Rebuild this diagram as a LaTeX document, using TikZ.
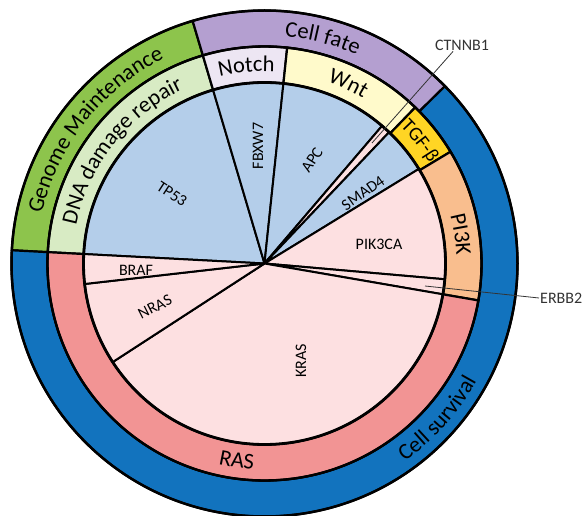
\documentclass[tikz,border=0pt]{standalone}
\usepackage{fontspec}
\setmainfont{Carlito}
\usetikzlibrary{decorations.text}
\definecolor{pieblue}{HTML}{B4CEEA}
\definecolor{piepink}{HTML}{FDE0E1}
\definecolor{dnagreen}{HTML}{D8EBC4}
\definecolor{gmgreen}{HTML}{8DC44C}
\definecolor{fatepurple}{HTML}{B49FD0}
\definecolor{notchlav}{HTML}{EDE6F3}
\definecolor{wntyellow}{HTML}{FFFACB}
\definecolor{tgfgold}{HTML}{FFD524}
\definecolor{pipeach}{HTML}{F9BE8E}
\definecolor{rassalmon}{HTML}{F29494}
\definecolor{survblue}{HTML}{1273BE}
\definecolor{leadgray}{HTML}{333333}
\newcommand\ringfont{\fontsize{22.5}{26}\selectfont}
\newcommand\tgffont{\fontsize{19.5}{23}\selectfont}
\newcommand\genefont{\fontsize{16}{19}\selectfont}
\newcommand\annsec[5]{\filldraw[sector, fill=#5] (#1:#3) -- (#1:#4) arc[start angle=#1,end angle=#2,radius=#4] -- (#2:#3) arc[start angle=#2,end angle=#1,radius=#3] -- cycle;}
\newcommand\piesec[3]{\filldraw[slice, fill=#3] (0,0) -- (#1:181) arc[start angle=#1,end angle=#2,radius=181] -- cycle;}
\begin{document}
\begin{tikzpicture}[x=1pt,y=1pt,
  sector/.style={draw=black, line width=2.2pt, line join=round},
  slice/.style={draw=black, line width=2pt, line join=round},
  gene/.style={font=\genefont, text=black, inner sep=1pt},
  lead/.style={draw=leadgray, line width=0.8pt},
  ringtext/.style={decorate, decoration={text along path, text align=center, text={|\ringfont|#1}}}]
\useasboundingbox (0,0) rectangle (587,515);
\begin{scope}[shift={(264.5,251.5)}]
  % outer ring
  \annsec{106.5}{177}{217}{253}{gmgreen}
  \annsec{44.5}{106.5}{217}{253}{fatepurple}
  \annsec{177}{404.5}{217}{253}{survblue}
  % middle ring
  \annsec{106.5}{177}{181}{217}{dnagreen}
  \annsec{84}{106.5}{181}{217}{notchlav}
  \annsec{46}{84}{181}{217}{wntyellow}
  \annsec{31}{46}{181}{217}{tgfgold}
  \annsec{-9.8}{31}{181}{217}{pipeach}
  \annsec{177}{350.2}{181}{217}{rassalmon}
  % pie
  \piesec{106.5}{177}{pieblue}
  \piesec{84}{106.5}{pieblue}
  \piesec{49.5}{84}{pieblue}
  \piesec{46.5}{49.5}{piepink}
  \piesec{31.5}{46.5}{pieblue}
  \piesec{-5}{31.5}{piepink}
  \piesec{-9.8}{-5}{piepink}
  \piesec{213}{350.2}{piepink}
  \piesec{186.5}{213}{piepink}
  \piesec{177}{186.5}{piepink}
  % circles
  \draw[line width=2.8pt] (0,0) circle[radius=181];
  \draw[line width=2.4pt] (0,0) circle[radius=217];
  \draw[line width=2.5pt] (0,0) circle[radius=253];
  % ring labels
  \path[ringtext=Genome Maintenance] (177:228) arc[start angle=177,end angle=106.5,radius=228];
  \path[ringtext=Cell fate] (106.5:228) arc[start angle=106.5,end angle=44.5,radius=228];
  \path[ringtext=Cell survival] (-75:242.5) arc[start angle=-75,end angle=-8.6,radius=242.5];
  \path[ringtext=DNA damage repair] (177:192) arc[start angle=177,end angle=106.5,radius=192];
  \path[ringtext=Notch] (106.5:192) arc[start angle=106.5,end angle=84,radius=192];
  \path[ringtext=Wnt] (84:192) arc[start angle=84,end angle=46,radius=192];
  \path[decorate, decoration={text along path, text align=center, text={|\tgffont|TGF-β}}] (46.3:193) arc[start angle=46.3,end angle=30.3,radius=193];
  \path[ringtext=PI3K] (27:192) arc[start angle=27,end angle=-10,radius=192];
  \path[ringtext=RAS] (177:206) arc[start angle=177,end angle=347,radius=206];
\end{scope}
% gene labels
\node[gene, rotate=-33] (tp53) at (172,321) {TP53};
\node[gene, rotate=90] (fbxw7) at (258,369) {FBXW7};
\node[gene, rotate=57] (apc) at (312,355) {APC};
\node[gene, rotate=35] (smad4) at (363,322) {SMAD4};
\node[gene] (pik3ca) at (379,271) {PIK3CA};
\node[gene] (braf) at (136,245) {BRAF};
\node[gene, rotate=27] (nras) at (155,208) {NRAS};
\node[gene, rotate=90] (kras) at (301,154) {KRAS};
% outside labels with leaders
\node[gene, text=leadgray] (ctnnb1) at (462,470) {CTNNB1};
\coordinate (ctip) at (372,372);
\draw[lead] (ctip) -- ([xshift=-9pt]ctnnb1.south);
\node[gene, text=leadgray, anchor=west] (erbb2) at (539,217) {ERBB2};
\coordinate (etip) at (425,229);
\draw[lead] (etip) -- (erbb2.west);
\end{tikzpicture}
\end{document}
